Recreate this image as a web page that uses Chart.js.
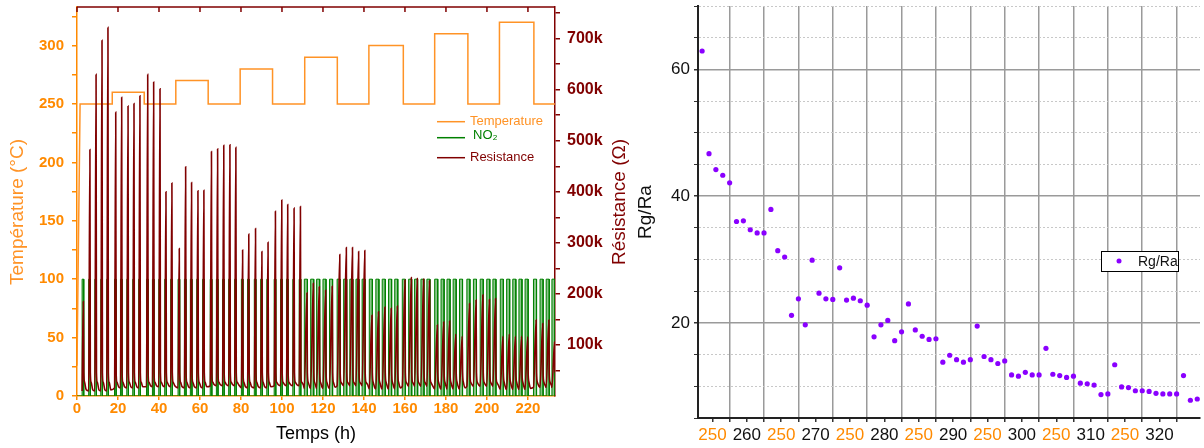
<!DOCTYPE html>
<html>
<head>
<meta charset="utf-8">
<script src="https://cdn.jsdelivr.net/npm/chart.js@4.4.1/dist/chart.umd.min.js"></script>
<style>
  html, body { margin: 0; padding: 0; background: #fff; }
  #wrap { position: relative; width: 1204px; height: 448px; overflow: hidden; }
  #c1 { position: absolute; left: 0; top: 0; }
  #c2 { position: absolute; left: 630px; top: 0; }
</style>
</head>
<body>
<div id="wrap">
  <canvas id="c1" width="630" height="448"></canvas>
  <canvas id="c2" width="574" height="448"></canvas>
</div>
<script>
// ---------- left panel data ----------
// temperature plateaus (h, °C)
const tempStartT = 0, tempStartV = 26;
const tempSegStart = [1.5, 17.2, 32.8, 48.2, 64.0, 79.6, 95.4, 111.1, 127.0, 142.4, 159.2, 174.5, 190.7, 206.1, 222.9];
const tempSegLevel = [250, 260, 250, 270, 250, 280, 250, 290, 250, 300, 250, 310, 250, 320, 250];
const timeMax = 233.2;

// resistance peak times (h) and peak values (kΩ), one per NO2 pulse
const peakT = [
  3.1, 6.3, 9.3, 12.2, 15.1,
  18.9, 21.8, 24.9, 27.8, 30.7,
  34.5, 37.4, 40.5, 43.4, 46.3,
  49.9, 53.0, 55.9, 59.0, 61.9,
  65.6, 68.6, 71.6, 74.6, 77.5,
  80.8, 83.8, 87.1, 90.2, 93.2,
  96.8, 99.9, 102.8, 105.9, 109.0,
  112.2, 115.3, 118.2, 121.3, 124.5,
  128.2, 131.4, 134.4, 137.4, 140.4,
  143.9, 147.1, 150.2, 153.3, 156.3,
  160.0, 163.1, 166.0, 169.1, 172.0,
  175.8, 178.9, 181.8, 184.8, 187.9,
  191.5, 194.7, 198.0, 201.2, 204.2,
  207.8, 210.9, 213.9, 216.9, 219.9,
  224.0, 227.2, 230.2, 233.0
];
const peakR = [
  185, 483, 630, 697, 722,
  556, 585, 568, 573, 588,
  630, 615, 602, 400, 417,
  289, 449, 418, 402, 403,
  479, 484, 491, 492, 487,
  286, 317, 328, 283, 301,
  362, 384, 375, 368, 371,
  202, 221, 214, 207, 215,
  277, 291, 291, 283, 285,
  158, 165, 174, 172, 176,
  227, 232, 230, 229, 226,
  139, 145, 147, 121, 117,
  181, 188, 198, 189, 191,
  117, 121, 117, 117, 116,
  149, 142, 149, 106
];
// baseline resistance per group of 5 pulses (kΩ)
const baseR = [10, 16, 18, 16, 20, 16, 20, 15, 20, 14, 19, 14, 19, 13, 17];
// decay tail just after a peak (kΩ)
const tailR = [46, 27];
const no2Level = 100;
// NO2 exposure length (h): short pulses first, longer ones after ~111 h
const no2DurEarly = 0.8, no2DurLate = 1.5, no2Switch = 111.1;
// right-hand axis ticks (kΩ), labelled every 100k
const resTicksK = [50, 100, 150, 200, 250, 300, 350, 400, 450, 500, 550, 600, 650, 700, 750];

// ---------- right panel data ----------
const cellLabels = ['250', '260', '250', '270', '250', '280', '250', '290', '250', '300', '250', '310', '250', '320'];
const rgRa = [
  62.9, 46.7, 44.2, 43.3, 42.1,
  36.0, 36.1, 34.7, 34.2, 34.2,
  37.9, 31.4, 30.4, 21.2, 23.8,
  19.7, 29.9, 24.7, 23.8, 23.7,
  28.7, 23.6, 23.9, 23.5, 22.8,
  17.8, 19.7, 20.4, 17.2, 18.6,
  23.0, 18.9, 17.9, 17.4, 17.5,
  13.8, 14.9, 14.2, 13.8, 14.2,
  19.5, 14.7, 14.2, 13.6, 14.0,
  11.8, 11.6, 12.2, 11.8, 11.8,
  16.0, 11.9, 11.7, 11.4, 11.6,
  10.5, 10.4, 10.2, 8.7, 8.8,
  13.4, 9.9, 9.8, 9.3, 9.3,
  9.2, 8.9, 8.8, 8.8, 8.8,
  11.7, 7.8, 8.0
];

const FONT = "'Liberation Sans', Arial, sans-serif";
const ORANGE = '#ff8a00';
const ORANGE_LINE = '#ff9326';
const DARKRED = '#800000';
const GREEN = '#008000';
const PURPLE = '#8a00ff';
Chart.defaults.font.family = FONT;

// keep the plot box exactly where the padding puts it
const noPadV = s => { s.paddingTop = 0; s.paddingBottom = 0; };
const noPadH = s => { s.paddingLeft = 0; s.paddingRight = 0; };

// ---------- build left series ----------
const tempPts = [{ x: tempStartT, y: tempStartV }];
tempSegStart.forEach((t, k) => {
  const end = k + 1 < tempSegStart.length ? tempSegStart[k + 1] : timeMax;
  tempPts.push({ x: t, y: tempSegLevel[k] }, { x: end, y: tempSegLevel[k] });
});

const no2Off = 0.2;
const durAt = t => (t < no2Switch ? no2DurEarly : no2DurLate);
const no2Pts = [{ x: 0, y: 0 }];
peakT.forEach(t => {
  const s = t + no2Off - durAt(t), e = t + no2Off;
  no2Pts.push({ x: s, y: 0 }, { x: s, y: no2Level }, { x: e, y: no2Level }, { x: e, y: 0 });
});

const resPts = [];
peakT.forEach((t, i) => {
  const b = baseR[Math.floor(i / 5)] * 1000;
  resPts.push({ x: t + no2Off - durAt(t), y: b });
  resPts.push({ x: t, y: peakR[i] * 1000 });
  resPts.push({ x: t + 0.2, y: tailR[0] * 1000 });
  resPts.push({ x: t + 0.6, y: tailR[1] * 1000 });
  resPts.push({ x: t + 1.4, y: b + 2000 });
});

const leftDecor = {
  id: 'leftDecor',
  afterDraw(chart) {
    const { ctx, chartArea: a, scales } = chart;
    ctx.save();
    // top frame with inward ticks
    ctx.strokeStyle = DARKRED;
    ctx.lineWidth = 1.5;
    ctx.beginPath();
    ctx.moveTo(a.left, a.top);
    ctx.lineTo(a.right, a.top);
    scales.x.ticks.forEach(tk => {
      const px = scales.x.getPixelForValue(tk.value);
      ctx.moveTo(px, a.top);
      ctx.lineTo(px, a.top + 5);
    });
    ctx.stroke();

    // legend
    const ds = chart.data.datasets;
    const rows = [
      { d: ds[1], ly: 121.7, ty: 121.7, tx: 470 },
      { d: ds[2], ly: 137.7, ty: 135, tx: 473 },
      { d: ds[0], ly: 157.7, ty: 157.3, tx: 470 }
    ];
    ctx.font = '13px ' + FONT;
    ctx.textBaseline = 'middle';
    rows.forEach(r => {
      ctx.strokeStyle = r.d.borderColor;
      ctx.lineWidth = 1.5;
      ctx.beginPath();
      ctx.moveTo(437, r.ly);
      ctx.lineTo(465, r.ly);
      ctx.stroke();
      ctx.fillStyle = r.d.borderColor;
      ctx.fillText(r.d.label, r.tx, r.ty);
    });

    // axis titles
    ctx.font = '19px ' + FONT;
    ctx.textAlign = 'center';
    ctx.fillStyle = ORANGE_LINE;
    ctx.translate(18, 212);
    ctx.rotate(-Math.PI / 2);
    ctx.fillText('Température (°C)', 0, 0);
    ctx.setTransform(1, 0, 0, 1, 0, 0);
    ctx.fillStyle = DARKRED;
    ctx.translate(620, 202);
    ctx.rotate(-Math.PI / 2);
    ctx.fillText('Résistance (Ω)', 0, 0);
    ctx.restore();
  }
};

new Chart(document.getElementById('c1'), {
  type: 'line',
  data: {
    datasets: [
      { label: 'Resistance', data: resPts, yAxisID: 'y1', borderColor: DARKRED, borderWidth: 1.6,
        pointRadius: 0, cubicInterpolationMode: 'monotone', order: 0 },
      { label: 'Temperature', data: tempPts, yAxisID: 'y', borderColor: ORANGE_LINE, borderWidth: 1.5,
        pointRadius: 0, tension: 0, order: 1 },
      { label: 'NO₂', data: no2Pts, yAxisID: 'y', borderColor: GREEN, borderWidth: 1,
        backgroundColor: 'rgba(40,150,40,0.55)', fill: 'origin', pointRadius: 0, tension: 0, order: 2 }
    ]
  },
  options: {
    responsive: false,
    animation: false,
    devicePixelRatio: 1,
    layout: { padding: { top: 7, left: 0, right: 0, bottom: 0 } },
    plugins: { legend: { display: false }, tooltip: { enabled: false } },
    scales: {
      x: {
        type: 'linear', min: 0, max: timeMax,
        ticks: { stepSize: 20, includeBounds: false, color: ORANGE, maxRotation: 0, padding: 0,
                 font: { size: 15, weight: 'bold' } },
        grid: { drawOnChartArea: false, color: ORANGE, tickLength: 4, lineWidth: 1.5 },
        border: { color: ORANGE, width: 1.5 },
        title: { display: true, text: 'Temps (h)', color: '#000', font: { size: 18 }, padding: { top: 0, bottom: 3 } },
        afterFit: s => { s.height = 52; noPadH(s); }
      },
      y: {
        type: 'linear', position: 'left', min: 0, max: 333,
        ticks: { stepSize: 25, includeBounds: false, color: ORANGE, padding: 8,
                 font: { size: 15, weight: 'bold' },
                 callback: v => (Math.round(v) % 50 === 0 ? Math.round(v) : '') },
        grid: { drawOnChartArea: false, color: ORANGE, tickLength: 5, lineWidth: 1.5 },
        border: { color: ORANGE, width: 1.5 },
        afterFit: s => { s.width = 77; noPadV(s); }
      },
      y1: {
        type: 'linear', position: 'right', min: 0, max: 762000,
        afterBuildTicks: s => { s.ticks = resTicksK.map(k => ({ value: k * 1000 })); },
        ticks: { autoSkip: false, color: DARKRED, padding: 7,
                 font: { size: 16, weight: 'bold' },
                 callback: v => {
                   const k = Math.round(v / 1000);
                   return k % 100 === 0 ? k + 'k' : '';
                 } },
        grid: { drawOnChartArea: false, color: DARKRED, tickLength: 5, lineWidth: 1.5 },
        border: { color: DARKRED, width: 1.5 },
        afterFit: s => { s.width = 75; noPadV(s); }
      }
    }
  },
  plugins: [leftDecor]
});

// ---------- right panel ----------
const xTicks = [];
cellLabels.forEach((lab, i) => {
  xTicks.push({ value: 5 * i + 1.5, label: lab, edge: false });
  xTicks.push({ value: 5 * i + 4, label: '', edge: true });
});
const rgPts = rgRa.map((v, i) => ({ x: i, y: v }));

const rightLegend = {
  id: 'rightLegend',
  afterDraw(chart) {
    const ctx = chart.ctx;
    const d = chart.data.datasets[0];
    ctx.save();
    ctx.fillStyle = '#fff';
    ctx.fillRect(471, 251, 77, 20);
    ctx.strokeStyle = '#000';
    ctx.lineWidth = 1;
    ctx.strokeRect(471.5, 251.5, 77, 20);
    ctx.fillStyle = d.backgroundColor;
    ctx.beginPath();
    ctx.arc(489, 261, 2.5, 0, Math.PI * 2);
    ctx.fill();
    ctx.fillStyle = '#111';
    ctx.font = '14px ' + FONT;
    ctx.textBaseline = 'middle';
    ctx.fillText(d.label, 508, 262);
    ctx.restore();
  }
};

new Chart(document.getElementById('c2'), {
  type: 'scatter',
  data: {
    datasets: [{ label: 'Rg/Ra', data: rgPts, backgroundColor: PURPLE, borderWidth: 0, pointRadius: 2.6 }]
  },
  options: {
    responsive: false,
    animation: false,
    devicePixelRatio: 1,
    layout: { padding: { top: 6, left: 0, right: 0, bottom: 0 } },
    plugins: { legend: { display: false }, tooltip: { enabled: false } },
    scales: {
      x: {
        type: 'linear', min: -0.6, max: 72.4,
        afterBuildTicks: s => { s.ticks = xTicks.map(t => ({ value: t.value })); },
        ticks: {
          autoSkip: false, maxRotation: 0, padding: 3, font: { size: 17 },
          color: c => (xTicks[c.index] && xTicks[c.index].label === '250' ? ORANGE : '#111'),
          callback: (v, i) => xTicks[i].label
        },
        grid: {
          color: c => (c.tick && xTicks[c.index] && xTicks[c.index].edge ? '#9a9a9a' : 'rgba(0,0,0,0)'),
          lineWidth: 1.5, tickColor: '#333', tickLength: 4, tickWidth: 1.5
        },
        border: { color: '#222', width: 2 },
        afterFit: s => { s.height = 30; noPadH(s); }
      },
      y: {
        type: 'linear', min: 5, max: 70,
        ticks: { stepSize: 5, includeBounds: false, color: '#111', font: { size: 17 }, padding: 4,
                 callback: v => (v % 20 === 0 ? v : '') },
        grid: {
          color: c => (c.tick && c.tick.value % 20 === 0 ? '#9a9a9a' : '#c8c8c8'),
          lineWidth: c => (c.tick && c.tick.value % 20 === 0 ? 1.5 : 1),
          tickColor: '#333', tickLength: 4
        },
        border: { color: '#222', width: 2, dash: c => (c.tick && c.tick.value % 20 !== 0 ? [2, 2] : []) },
        title: { display: true, text: 'Rg/Ra', color: '#111', font: { size: 19 }, padding: { top: 4, bottom: 0 } },
        afterFit: s => { s.width = 68; noPadV(s); }
      }
    }
  },
  plugins: [rightLegend]
});
</script>
</body>
</html>
